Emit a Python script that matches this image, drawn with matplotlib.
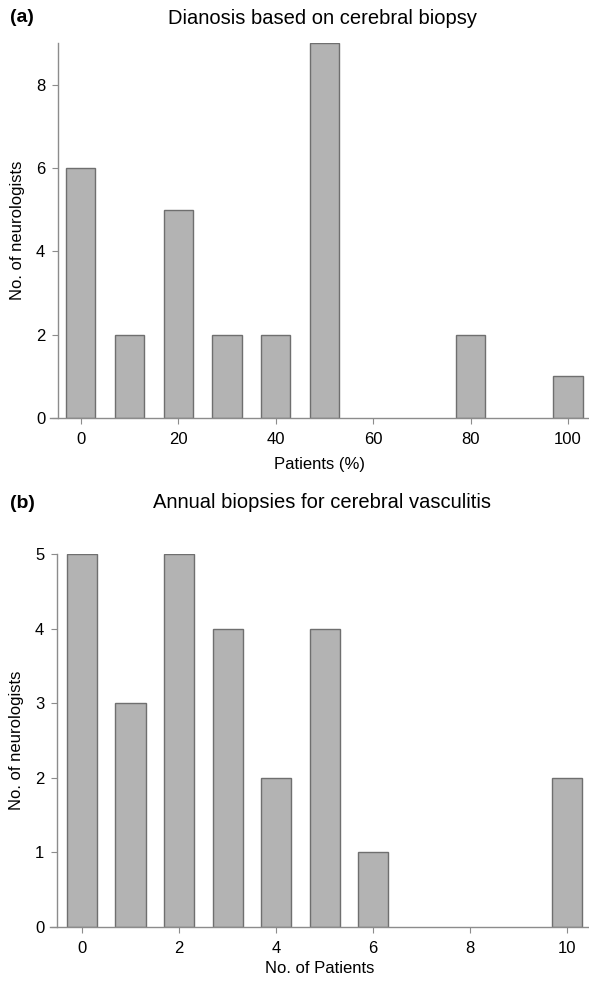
import matplotlib
matplotlib.use("Agg")
import matplotlib.pyplot as plt

plt.rcParams['font.family'] = ['Liberation Sans', 'DejaVu Sans']

# panel (a): diagnosis based on cerebral biopsy
pct_bins = [0, 10, 20, 30, 40, 50, 80, 100]
pct_counts = [6, 2, 5, 2, 2, 9, 2, 1]
pct_ticks = [0, 20, 40, 60, 80, 100]
pct_yticks = [0, 2, 4, 6, 8]

# panel (b): annual biopsies
n_bins = [0, 1, 2, 3, 4, 5, 6, 10]
n_counts = [5, 3, 5, 4, 2, 4, 1, 2]
n_ticks = [0, 2, 4, 6, 8, 10]
n_yticks = [0, 1, 2, 3, 4, 5]

bar_fill = '#b3b3b3'
bar_edge = '#6f6f6f'
spine_col = '#8c8c8c'

fig = plt.figure(figsize=(5.89, 9.83), dpi=100)
W, H = 589, 983


def axes_px(x0, y0, x1, y1):
    return fig.add_axes([x0 / W, 1 - y1 / H, (x1 - x0) / W, (y1 - y0) / H])


def style(ax, left_pos):
    ax.spines['top'].set_visible(False)
    ax.spines['right'].set_visible(False)
    ax.spines['left'].set_position(('data', left_pos))
    for s in ('left', 'bottom'):
        ax.spines[s].set_color(spine_col)
        ax.spines[s].set_linewidth(1.0)
    ax.tick_params(length=4, width=0.8, color=spine_col, labelsize=12)
    ax.tick_params(axis='x', pad=6)
    ax.tick_params(axis='y', pad=5)
    ax.patch.set_alpha(0)


# (a)
ax1 = axes_px(50, 43, 589, 418)
ax1.bar(pct_bins, pct_counts, width=6, color=bar_fill, edgecolor=bar_edge, linewidth=1.0)
ax1.set_xlim(-6.3, 104.3)
ax1.set_ylim(0, 9)
ax1.set_xticks(pct_ticks)
ax1.set_yticks(pct_yticks)
style(ax1, -4.7)
ax1.set_xlabel('Patients (%)', fontsize=12, labelpad=7)
ax1.set_ylabel('No. of neurologists', fontsize=12, labelpad=8)
fig.text(10 / W, 1 - 18 / H, '(a)', fontsize=14, fontweight='bold', va='center')
fig.text(322 / W, 1 - 18 / H, 'Dianosis based on cerebral biopsy', fontsize=14.5,
         ha='center', va='center')

# (b)
ax2 = axes_px(50, 554, 589, 927)
ax2.bar(n_bins, n_counts, width=0.62, color=bar_fill, edgecolor=bar_edge, linewidth=1.0)
ax2.set_xlim(-0.66, 10.45)
ax2.set_ylim(0, 5)
ax2.set_xticks(n_ticks)
ax2.set_yticks(n_yticks)
style(ax2, -0.52)
ax2.set_xlabel('No. of Patients', fontsize=12, labelpad=4)
ax2.set_ylabel('No. of neurologists', fontsize=12, labelpad=8)
fig.text(10 / W, 1 - 503 / H, '(b)', fontsize=14, fontweight='bold', va='center')
fig.text(322 / W, 1 - 503 / H, 'Annual biopsies for cerebral vasculitis', fontsize=14.5,
         ha='center', va='center')

fig.savefig('out.png', dpi=100)
